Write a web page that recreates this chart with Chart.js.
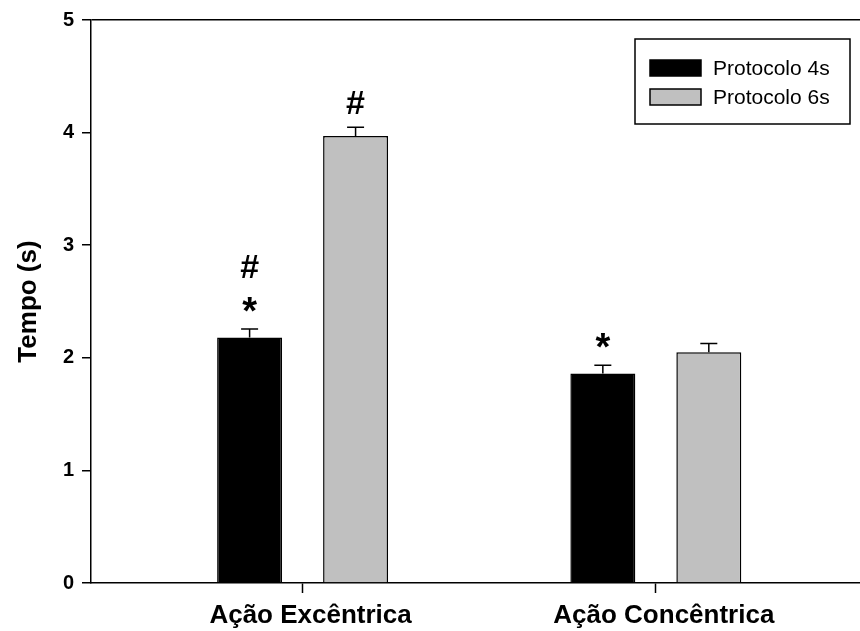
<!DOCTYPE html>
<html>
<head>
<meta charset="utf-8">
<script src="https://cdn.jsdelivr.net/npm/chart.js@4"></script>
<style>
  body { margin: 0; background: #fff; }
  canvas { display: block; }
</style>
</head>
<body>
<canvas id="grafico" width="860" height="631"></canvas>
<script>
// dados
const categorias = ["Ação Excêntrica", "Ação Concêntrica"];
const posicoes = [1, 2];
const protocolo4s = [2.18, 1.86];
const erro4s = [0.075, 0.073];
const protocolo6s = [3.97, 2.05];
const erro6s = [0.077, 0.078];
// marcas de significância, da mais próxima da barra para cima
const marcas4s = [["*", "#"], ["*"]];
const marcas6s = [["#"], []];
const ticksY = [0, 1, 2, 3, 4, 5];

const FONTE = "'Liberation Sans', Arial, sans-serif";

// barras de erro (só para cima) e marcas
const pluginErros = {
  id: "erros",
  afterDatasetsDraw(chart) {
    const ctx = chart.ctx;
    const y = chart.scales.y;
    chart.data.datasets.forEach((ds, i) => {
      const meta = chart.getDatasetMeta(i);
      meta.data.forEach((bar, j) => {
        const topo = y.getPixelForValue(ds.valores[j] + ds.erros[j]);
        ctx.save();
        ctx.strokeStyle = "#000";
        ctx.lineWidth = 1.5;
        ctx.beginPath();
        ctx.moveTo(bar.x, bar.y);
        ctx.lineTo(bar.x, topo);
        ctx.moveTo(bar.x - 8.5, topo);
        ctx.lineTo(bar.x + 8.5, topo);
        ctx.stroke();

        // marcas acima do erro
        ctx.fillStyle = "#000";
        ctx.textAlign = "center";
        ctx.textBaseline = "alphabetic";
        (ds.marcas[j] || []).forEach((m, k) => {
          ctx.font = "bold " + (m === "*" ? 38 : 34) + "px " + FONTE;
          const med = ctx.measureText(m);
          const centro = topo - 25 - k * 38;
          const base = centro + (med.actualBoundingBoxAscent - med.actualBoundingBoxDescent) / 2;
          ctx.fillText(m, bar.x, base);
        });
        ctx.restore();
      });
    });
  }
};

// legenda dentro da área do gráfico, com moldura
const pluginLegenda = {
  id: "legendaCaixa",
  afterDraw(chart) {
    const ctx = chart.ctx;
    const area = chart.chartArea;
    const dir = area.right - 10;
    const esq = dir - 215;
    const topo = area.top + 19;
    ctx.save();
    ctx.strokeStyle = "#000";
    ctx.lineWidth = 1.5;
    ctx.fillStyle = "#fff";
    ctx.fillRect(esq, topo, dir - esq, 85);
    ctx.strokeRect(esq, topo, dir - esq, 85);
    ctx.font = "21px " + FONTE;
    ctx.textBaseline = "middle";
    chart.data.datasets.forEach((ds, i) => {
      const cy = topo + 29 + i * 29;
      ctx.fillStyle = ds.backgroundColor;
      ctx.fillRect(esq + 15, cy - 8, 51, 16);
      ctx.strokeStyle = "#000";
      ctx.lineWidth = 1.5;
      ctx.strokeRect(esq + 15, cy - 8, 51, 16);
      ctx.fillStyle = "#000";
      ctx.fillText(ds.label, esq + 78, cy + 1);
    });
    ctx.restore();
  }
};

const serie = (vals) => vals.map((v, i) => ({ x: posicoes[i], y: v }));

new Chart(document.getElementById("grafico").getContext("2d"), {
  type: "bar",
  data: {
    datasets: [
      {
        label: "Protocolo 4s",
        data: serie(protocolo4s),
        valores: protocolo4s,
        erros: erro4s,
        marcas: marcas4s,
        backgroundColor: "#000000",
        borderColor: "#000000",
        borderWidth: 1.5,
        categoryPercentage: 0.6,
        barPercentage: 0.613
      },
      {
        label: "Protocolo 6s",
        data: serie(protocolo6s),
        valores: protocolo6s,
        erros: erro6s,
        marcas: marcas6s,
        backgroundColor: "#c0c0c0",
        borderColor: "#000000",
        borderWidth: 1.5,
        categoryPercentage: 0.6,
        barPercentage: 0.613
      }
    ]
  },
  options: {
    responsive: false,
    animation: false,
    layout: { padding: { top: 18, right: 0, left: 0, bottom: 0 } },
    plugins: { legend: { display: false }, tooltip: { enabled: false } },
    scales: {
      x: {
        type: "linear",
        offset: false,
        min: 0.401,
        max: 2.578,
        afterBuildTicks: (s) => { s.ticks = posicoes.map(v => ({ value: v })); },
        afterFit: (s) => { s.height = 48; },
        ticks: {
          autoSkip: false,
          maxRotation: 0,
          padding: 7,
          labelOffset: 8,
          color: "#000",
          font: { family: FONTE, size: 26, weight: "bold" },
          callback: (v) => categorias[posicoes.indexOf(v)]
        },
        grid: { offset: false, drawOnChartArea: false, tickLength: 10, tickColor: "#000", tickWidth: 1.5 },
        border: { color: "#000", width: 1.5 }
      },
      y: {
        min: 0,
        max: 5,
        afterBuildTicks: (s) => { s.ticks = ticksY.map(v => ({ value: v })); },
        afterFit: (s) => { s.width = 91; },
        ticks: {
          padding: 8,
          color: "#000",
          font: { family: FONTE, size: 20, weight: "bold" }
        },
        grid: {
          color: (c) => (c.tick && c.tick.value === 5 ? "#000" : "transparent"),
          lineWidth: 1.5,
          tickLength: 9,
          tickColor: "#000",
          tickWidth: 1.5
        },
        border: { color: "#000", width: 1.5 },
        title: {
          display: true,
          text: "Tempo (s)",
          color: "#000",
          padding: { top: 13, bottom: 4 },
          font: { family: FONTE, size: 26, weight: "bold" }
        }
      }
    }
  },
  plugins: [pluginErros, pluginLegenda]
});
</script>
</body>
</html>
